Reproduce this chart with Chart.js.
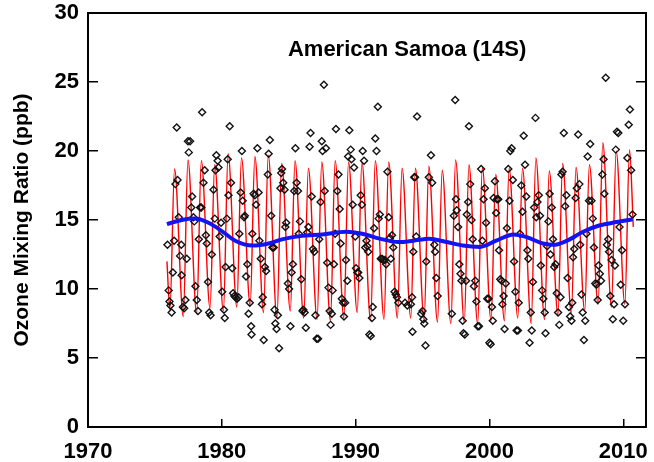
<!DOCTYPE html>
<html>
<head>
<meta charset="utf-8">
<script src="https://cdn.jsdelivr.net/npm/chart.js@4.4.0/dist/chart.umd.min.js"></script>
<style>
    html, body { margin: 0; padding: 0; background: #fff; }
</style>
</head>
<body>
<canvas id="ozoneChart" width="654" height="462"></canvas>
<script>
const SITE_NAME = 'American Samoa (14S)';
const Y_TITLE = 'Ozone Mixing Ratio (ppb)';
const X_TICKS = [1970, 1980, 1990, 2000, 2010];
const Y_TICKS = [0, 5, 10, 15, 20, 25, 30];

// monthly observations (decimal year, ppb)
const OBS_YEAR = [
    1975.94,1976.03,1976.09,1976.16,1976.25,1976.34,1976.44,1976.53,1976.63,1976.69,1976.78,1976.88,1976.97,
    1977.00,1977.09,1977.19,1977.28,1977.38,1977.47,1977.53,1977.63,1977.72,1977.78,1977.88,1977.94,
    1978.03,1978.13,1978.22,1978.28,1978.38,1978.47,1978.53,1978.63,1978.72,1978.81,1978.88,1978.97,
    1979.06,1979.16,1979.25,1979.38,1979.47,1979.53,1979.59,1979.69,1979.75,1979.84,1979.94,
    1980.03,1980.16,1980.22,1980.28,1980.38,1980.44,1980.50,1980.59,1980.69,1980.78,1980.84,1980.94,
    1981.03,1981.13,1981.25,1981.31,1981.41,1981.50,1981.56,1981.66,1981.72,1981.81,1981.91,
    1982.00,1982.09,1982.19,1982.22,1982.28,1982.38,1982.47,1982.56,1982.66,1982.75,1982.81,1982.91,
    1983.00,1983.06,1983.13,1983.22,1983.31,1983.44,1983.50,1983.59,1983.69,1983.78,1983.88,1983.94,
    1984.00,1984.09,1984.19,1984.28,1984.38,1984.44,1984.50,1984.59,1984.69,1984.75,1984.81,1984.94,
    1985.03,1985.13,1985.22,1985.31,1985.41,1985.50,1985.59,1985.69,1985.75,1985.84,1985.94,
    1986.03,1986.09,1986.19,1986.28,1986.38,1986.47,1986.56,1986.63,1986.72,1986.81,1986.91,
    1987.00,1987.09,1987.19,1987.28,1987.38,1987.47,1987.53,1987.63,1987.69,1987.78,1987.88,1987.97,
    1988.06,1988.13,1988.22,1988.28,1988.38,1988.47,1988.53,1988.63,1988.72,1988.81,1988.88,1988.97,
    1989.06,1989.13,1989.22,1989.28,1989.38,1989.44,1989.53,1989.63,1989.69,1989.78,1989.88,1989.97,
    1990.03,1990.13,1990.19,1990.28,1990.38,1990.47,1990.53,1990.63,1990.72,1990.81,1990.88,1990.94,
    1991.03,1991.13,1991.22,1991.28,1991.38,1991.47,1991.56,1991.66,1991.72,1991.81,1991.88,1991.97,
    1992.06,1992.19,1992.28,1992.38,1992.47,1992.56,1992.63,1992.72,1992.81,1992.91,
    1993.00,1993.09,1993.19,1993.69,1993.86,
    1994.13,1994.22,1994.25,1994.31,1994.38,1994.44,1994.53,1994.59,1994.90,
    1995.00,1995.06,1995.13,1995.22,1995.28,1995.47,1995.63,1995.72,1995.88,1995.94,
    1996.03,1996.13,
    1997.19,1997.34,1997.44,1997.50,1997.56,1997.66,1997.75,1997.84,1997.91,
    1998.00,1998.06,1998.16,1998.25,1998.31,1998.41,1998.47,1998.56,1998.66,1998.75,1998.84,1998.94,
    1999.03,1999.13,1999.22,1999.38,1999.47,1999.56,1999.66,1999.75,1999.84,1999.94,
    2000.00,2000.09,2000.19,2000.25,2000.31,2000.41,2000.50,2000.56,2000.66,2000.72,2000.81,2000.91,2000.97,
    2001.06,2001.13,2001.22,2001.31,2001.41,2001.50,2001.56,2001.66,2001.75,2001.84,2001.94,
    2002.03,2002.13,2002.19,2002.28,2002.38,2002.47,2002.56,2002.66,2002.75,2002.84,2002.91,
    2003.00,2003.09,2003.16,2003.25,2003.34,2003.44,2003.50,2003.59,2003.69,2003.78,2003.84,2003.94,
    2004.03,2004.13,2004.19,2004.31,2004.41,2004.50,2004.56,2004.66,2004.75,2004.84,2004.94,
    2005.03,2005.13,2005.22,2005.31,2005.38,2005.47,2005.56,2005.66,2005.75,2005.84,2005.94,
    2006.03,2006.13,2006.19,2006.25,2006.34,2006.44,2006.53,2006.63,2006.72,2006.78,2006.88,2006.97,
    2007.06,2007.16,2007.25,2007.34,2007.44,2007.53,2007.63,2007.72,2007.81,2007.91,
    2008.00,2008.09,2008.16,2008.25,2008.34,2008.44,2008.53,2008.59,2008.69,2008.78,2008.88,2008.94,
    2009.03,2009.13,2009.22,2009.31,2009.38,2009.44,2009.53,2009.63,2009.72,2009.81,2009.91,
    2010.00,2010.13,2010.31,2010.41,2010.50,2010.59,2010.69
];
const OBS_PPB = [
    13.2,9.9,9.1,8.8,8.3,11.2,13.5,17.6,21.7,17.9,15.2,12.4,13.2,
    11.0,8.7,8.6,9.2,12.2,20.7,19.9,20.7,15.9,16.7,15.2,14.9,
    10.2,9.2,8.4,13.6,15.9,15.9,22.8,17.7,18.6,13.9,13.3,10.5,
    8.3,8.1,12.5,17.2,15.1,18.6,19.7,19.3,18.8,13.8,14.8,
    9.8,8.5,7.9,11.6,15.1,19.4,16.8,21.8,17.7,11.5,9.7,9.5,
    9.4,9.3,9.4,14.0,17.0,20.0,16.4,15.2,15.3,10.9,11.8,
    8.2,9.0,7.3,6.7,14.0,16.9,16.8,16.1,20.2,17.0,13.5,12.2,
    8.9,9.4,6.3,11.6,11.3,18.3,19.8,20.8,15.3,13.0,13.0,8.5,
    7.5,7.1,8.1,5.7,17.3,18.4,18.7,17.7,17.2,14.5,14.8,10.4,
    10.0,7.3,11.2,11.8,17.1,20.2,17.7,17.1,14.0,14.9,10.7,
    8.4,8.5,8.3,7.2,14.1,14.5,20.3,21.3,16.7,12.9,12.7,
    8.1,6.4,6.4,13.6,16.3,20.7,20.0,24.8,17.1,20.2,11.9,10.1,
    8.4,7.4,8.2,9.9,11.8,14.0,21.6,17.1,18.3,15.8,13.3,9.3,
    9.0,8.0,9.0,12.1,10.6,19.6,21.5,20.1,19.4,16.1,18.8,13.8,
    11.5,11.2,11.2,10.8,16.8,16.1,20.0,19.3,13.0,13.5,13.1,12.7,
    6.7,6.6,7.9,8.7,14.4,20.9,20.0,23.2,15.1,15.4,12.2,12.2,
    12.1,12.1,11.8,18.5,15.2,13.7,12.2,13.9,13.0,9.8,
    9.6,9.4,9.0,9.0,8.8,
    8.9,9.4,6.9,12.7,18.1,18.1,13.8,22.5,8.2,
    8.4,7.8,7.5,5.9,12.0,18.1,19.7,17.7,13.2,12.7,
    10.8,9.5,
    8.2,15.3,23.7,16.5,15.7,14.5,11.8,11.1,10.6,
    7.7,6.8,6.7,10.6,15.4,16.3,21.8,17.6,15.0,13.6,10.2,10.6,
    9.1,7.3,7.3,18.7,13.5,16.5,17.3,14.8,9.3,9.3,
    6.1,6.0,8.7,7.7,16.6,17.8,15.5,16.5,16.5,12.8,10.7,10.6,8.9,
    9.5,7.1,10.4,14.4,18.7,16.4,20.0,20.2,17.9,12.0,9.8,
    7.0,7.0,9.0,14.0,17.5,15.6,21.1,19.0,16.7,12.8,12.2,
    6.1,8.3,7.0,10.5,15.9,22.4,15.2,16.3,16.8,15.3,11.7,9.9,
    9.3,8.3,6.8,13.1,14.9,16.9,12.5,15.9,13.6,11.6,11.8,
    9.7,8.3,7.4,9.4,18.3,18.5,21.3,16.0,16.8,10.8,8.7,
    8.0,7.7,9.0,12.3,12.9,16.6,17.3,21.2,17.6,13.2,9.6,8.3,
    6.3,7.7,14.0,19.6,16.4,20.5,16.4,15.1,13.0,10.4,
    10.3,9.2,11.7,11.1,10.6,18.3,19.4,16.9,25.3,13.2,13.6,12.7,
    9.5,12.1,7.8,8.9,11.7,20.1,21.4,21.3,14.5,10.3,12.8,
    7.7,8.9,19.5,21.9,23.0,18.6,15.4
];

// seasonal fit: yearly minimum (early in the year) and maximum (mid year)
const FIT_YEARS = [
    1976,1977,1978,1979,1980,1981,1982,1983,1984,1985,
    1986,1987,1988,1989,1990,1991,1992,1993,1994,1995,
    1996,1997,1998,1999,2000,2001,2002,2003,2004,2005,
    2006,2007,2008,2009,2010
];
const FIT_MIN = [
    8.5,8.0,8.2,8.6,8.4,8.7,8.8,8.3,7.9,8.4,
    7.9,7.8,7.7,7.9,8.3,7.7,7.8,7.9,7.9,7.8,
    7.6,7.5,7.6,7.5,7.7,7.7,7.9,7.5,7.8,8.1,
    8.2,8.4,8.9,8.7,8.9
];
const FIT_MAX = [
    18.7,19.35,19.3,19.0,19.8,19.5,19.6,19.7,19.1,19.3,
    18.75,19.2,19.3,19.2,19.2,19.3,19.2,18.75,18.75,18.9,
    18.6,19.35,19.0,18.8,18.3,18.75,18.75,19.5,18.55,19.1,
    18.8,19.0,20.6,20.0,20.1
];
const FIT_START = [1975.9, 12.0];
const FIT_END = [2010.75, 14.5];

// long-term trend
const TREND_YEAR = [
    1975.9,1977.0,1978.0,1979.0,1980.0,1981.0,1982.3,1983.5,1984.5,1986.0,
    1987.5,1989.3,1990.5,1991.8,1993.2,1994.3,1995.5,1996.8,1998.0,1999.3,
    2000.5,2001.8,2002.8,2004.0,2004.8,2005.8,2007.0,2008.2,2009.5,2010.7
];
const TREND_PPB = [
    14.7,15.0,15.1,14.8,14.2,13.5,13.15,13.3,13.6,13.85,
    13.95,14.15,14.0,13.65,13.4,13.5,13.65,13.4,13.15,13.05,
    13.5,13.95,13.75,13.3,13.2,13.5,14.15,14.6,14.85,15.05
];

const FONT_FAMILY = '"Liberation Sans", Arial, Helvetica, sans-serif';

function makeObs() {
    let pts = [];
    for (let i = 0; i < OBS_YEAR.length; i++) {
        pts.push({x: OBS_YEAR[i], y: OBS_PPB[i]});
    }
    return pts;
}

function makeFit() {
    let pts = [{x: FIT_START[0], y: FIT_START[1]}];
    for (let i = 0; i < FIT_YEARS.length; i++) {
        pts.push({x: FIT_YEARS[i] + 0.12, y: FIT_MIN[i]});
        pts.push({x: FIT_YEARS[i] + 0.47, y: FIT_MAX[i]});
    }
    pts.push({x: FIT_END[0], y: FIT_END[1]});
    return pts;
}

function makeTrend() {
    return TREND_YEAR.map((yr, i) => ({x: yr, y: TREND_PPB[i]}));
}

// fixed tick lists, and no extra label padding around the plot box
function useTicks(list) {
    return (scale) => { scale.ticks = list.map(v => ({value: v})); };
}
function noPad(scale) {
    scale.paddingTop = 0;
    scale.paddingBottom = 0;
    scale.paddingLeft = 0;
    scale.paddingRight = 0;
}

// site name written inside the plot
const siteLabel = {
    id: 'siteLabel',
    afterDatasetsDraw(chart) {
        const ctx = chart.ctx;
        const x = chart.scales.x.getPixelForValue(1993.85);
        const y = chart.scales.y.getPixelForValue(27.3);
        ctx.save();
        ctx.font = 'bold 22px ' + FONT_FAMILY;
        ctx.fillStyle = '#000';
        ctx.textAlign = 'center';
        ctx.textBaseline = 'middle';
        ctx.fillText(SITE_NAME, x, y);
        ctx.restore();
    }
};

const tickFont = {family: FONT_FAMILY, size: 22, weight: 'bold'};
const axisBorder = {color: '#000', width: 2};

const config = {
    type: 'scatter',
    data: {
        datasets: [
            {
                type: 'line',
                label: 'trend',
                data: makeTrend(),
                borderColor: '#1414f0',
                borderWidth: 4,
                pointRadius: 0,
                cubicInterpolationMode: 'monotone',
                fill: false
            },
            {
                label: 'monthly',
                data: makeObs(),
                pointStyle: 'rectRot',
                pointRadius: 3.5,
                borderColor: '#111',
                borderWidth: 1.4,
                backgroundColor: 'rgba(0,0,0,0)'
            },
            {
                type: 'line',
                label: 'fit',
                data: makeFit(),
                borderColor: '#ff0000',
                borderWidth: 1.4,
                pointRadius: 0,
                cubicInterpolationMode: 'monotone',
                fill: false
            }
        ]
    },
    options: {
        responsive: false,
        animation: false,
        layout: {padding: 0},
        plugins: {
            legend: {display: false},
            tooltip: {enabled: false}
        },
        scales: {
            x: {
                type: 'linear',
                position: 'bottom',
                min: 1970,
                max: 2011.7,
                afterBuildTicks: useTicks(X_TICKS),
                afterFit: (scale) => { scale.height = 35; noPad(scale); },
                ticks: {padding: 20, color: '#000', font: tickFont, maxRotation: 0, callback: v => String(v)},
                grid: {drawOnChartArea: false, tickLength: -8, color: '#000', lineWidth: 1.5},
                border: axisBorder
            },
            xTop: {
                type: 'linear',
                position: 'top',
                min: 1970,
                max: 2011.7,
                afterFit: (scale) => { scale.height = 13; noPad(scale); },
                ticks: {display: false},
                grid: {drawOnChartArea: false, drawTicks: false},
                border: axisBorder
            },
            y: {
                position: 'left',
                min: 0,
                max: 30,
                afterBuildTicks: useTicks(Y_TICKS),
                afterFit: (scale) => { scale.width = 88; noPad(scale); },
                ticks: {padding: 19, color: '#000', font: tickFont, callback: v => String(v)},
                title: {
                    display: true,
                    text: Y_TITLE,
                    color: '#000',
                    font: {family: FONT_FAMILY, size: 21, weight: 'bold'},
                    padding: {top: 10, bottom: 0}
                },
                grid: {drawOnChartArea: false, tickLength: -10, color: '#000', lineWidth: 1.5},
                border: axisBorder
            },
            yRight: {
                position: 'right',
                min: 0,
                max: 30,
                afterBuildTicks: useTicks(Y_TICKS),
                afterFit: (scale) => { scale.width = 8; noPad(scale); },
                ticks: {display: false},
                grid: {drawOnChartArea: false, tickLength: -10, color: '#000', lineWidth: 1.5},
                border: axisBorder
            }
        }
    },
    plugins: [siteLabel]
};

var chart = new Chart('ozoneChart', config);
</script>
</body>
</html>
